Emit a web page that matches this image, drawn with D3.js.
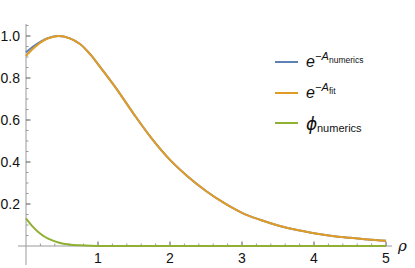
<!DOCTYPE html>
<html><head><meta charset="utf-8">
<script src="https://cdn.jsdelivr.net/npm/d3@7"></script>
<style>html,body{margin:0;padding:0;background:#fff;}svg{display:block;}</style>
</head><body>
<script>
const rho =            [0,     0.1,  0.2,   0.3,   0.45,  0.6,   0.75,  0.9,   1.0,    1.25,  1.5,   1.75, 2.0,  2.25, 2.5,   2.75,  3.0,   3.25,  3.5,   3.75,  4.0,   4.25,  4.5,   4.75,  5.0];
const expANumerics =   [0.922, 0.95, 0.972, 0.989, 1.0,   0.99,  0.962, 0.91,  0.866,  0.752, 0.627, 0.51, 0.41, 0.33, 0.262, 0.205, 0.158, 0.125, 0.098, 0.077, 0.061, 0.048, 0.039, 0.031, 0.025];
const expAFit =        [0.905, 0.94, 0.968, 0.988, 1.0,   0.99,  0.962, 0.91,  0.866,  0.752, 0.627, 0.51, 0.41, 0.33, 0.262, 0.205, 0.158, 0.125, 0.098, 0.077, 0.061, 0.048, 0.039, 0.031, 0.025];
const phiNumerics =    [0.132, 0.09, 0.058, 0.036, 0.017, 0.007, 0.003, 0.001, 0.0005, 0,     0,     0,    0,    0,    0,     0,     0,     0,     0,     0,     0,     0,     0,     0,     0];
const xTicks = [1, 2, 3, 4, 5];
const yTicks = [0.2, 0.4, 0.6, 0.8, 1.0];
const colors = ["#5E81B5", "#E19C24", "#8FB032"];

const W = 415, H = 268;
const svg = d3.select("body").append("svg").attr("width", W).attr("height", H);
const x = d3.scaleLinear().domain([0, 5]).range([26, 386]);
const y = d3.scaleLinear().domain([0, 1]).range([246, 36]);
const font = "'Liberation Sans', Arial, sans-serif";
const axisCol = "#9a9a9a";

// axes lines
svg.append("line").attr("x1", 18).attr("x2", 392).attr("y1", y(0)).attr("y2", y(0)).attr("stroke", axisCol).attr("stroke-width", 1);
svg.append("line").attr("x1", x(0)).attr("x2", x(0)).attr("y1", 24).attr("y2", 265).attr("stroke", axisCol).attr("stroke-width", 1);

// x ticks
const xMinor = d3.range(1, 26).map(i => i * 0.2);
xMinor.forEach(v => {
  const major = Math.abs(v - Math.round(v)) < 1e-6;
  svg.append("line").attr("x1", x(v)).attr("x2", x(v)).attr("y1", y(0)).attr("y2", y(0) - (major ? 4.5 : 2.5))
    .attr("stroke", major ? "#555" : "#999").attr("stroke-width", 1);
});
// y ticks
const yMinor = d3.range(1, 22).map(i => i * 0.05);
yMinor.forEach(v => {
  const major = Math.abs(v * 5 - Math.round(v * 5)) < 1e-6;
  svg.append("line").attr("x1", x(0)).attr("x2", x(0) + (major ? 4.5 : 2.5)).attr("y1", y(v)).attr("y2", y(v))
    .attr("stroke", major ? "#555" : "#999").attr("stroke-width", 1);
});

// tick labels
svg.selectAll(".xl").data(xTicks).enter().append("text")
  .attr("x", d => x(d)).attr("y", 263).attr("text-anchor", "middle")
  .attr("font-family", font).attr("font-size", 14).attr("fill", "#111").text(d => d);
svg.selectAll(".yl").data(yTicks).enter().append("text")
  .attr("x", 20).attr("y", d => y(d) + 5).attr("text-anchor", "end")
  .attr("font-family", font).attr("font-size", 14).attr("fill", "#111").text(d => d.toFixed(1));

// rho label
svg.append("text").attr("x", 398).attr("y", 251).attr("font-family", "'DejaVu Serif', serif").attr("font-style", "italic")
  .attr("font-size", 15).attr("fill", "#111").text("ρ");

// curves
const series = [expANumerics, expAFit, phiNumerics];
const line = d3.line().x((d, i) => x(rho[i])).y(d => y(d)).curve(d3.curveCatmullRom.alpha(0.5));
series.forEach((s, k) => {
  svg.append("path").attr("d", line(s)).attr("fill", "none").attr("stroke", colors[k]).attr("stroke-width", 2);
});

// legend
const ly = [62, 93, 123];
ly.forEach((yy, k) => {
  svg.append("line").attr("x1", 275).attr("x2", 298).attr("y1", yy).attr("y2", yy).attr("stroke", colors[k]).attr("stroke-width", 2);
});
function eLabel(yy, sub) {
  const t = svg.append("text").attr("font-family", font).attr("fill", "#111");
  t.append("tspan").attr("x", 306).attr("y", yy + 5).attr("font-size", 16).attr("font-style", "italic").text("e");
  t.append("tspan").attr("x", 315).attr("y", yy - 2).attr("font-size", 11).attr("font-style", "italic").text("−A");
  t.append("tspan").attr("x", 329).attr("y", yy + 1).attr("font-size", 8.5).text(sub);
}
eLabel(ly[0], "numerics");
eLabel(ly[1], "fit");
const tp = svg.append("text").attr("font-family", font).attr("fill", "#111");
tp.append("tspan").attr("x", 306).attr("y", ly[2] + 7).attr("font-size", 17).attr("font-style", "italic").attr("font-family", "'DejaVu Sans', sans-serif").text("ϕ");
tp.append("tspan").attr("x", 317).attr("y", ly[2] + 9).attr("font-size", 11).text("numerics");
</script>
</body></html>
